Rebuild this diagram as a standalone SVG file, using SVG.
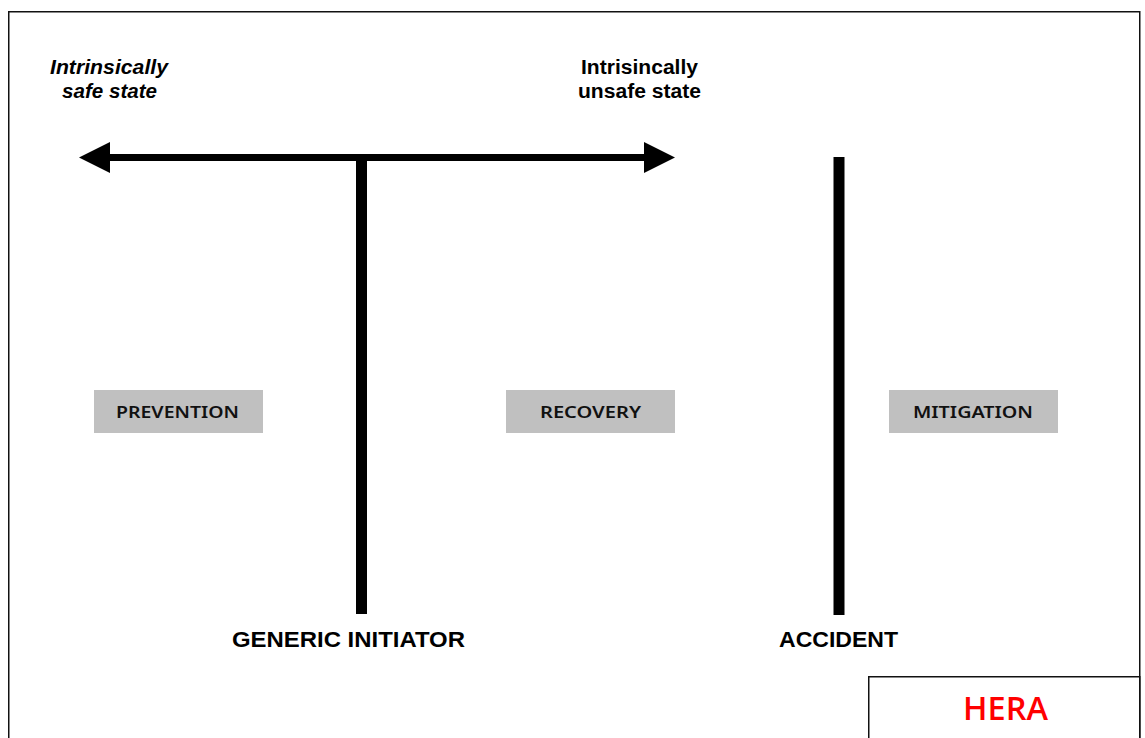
<svg xmlns="http://www.w3.org/2000/svg" width="1145" height="738" viewBox="0 0 1145 738">
  <defs>
    <marker id="head" markerUnits="userSpaceOnUse" markerWidth="31" markerHeight="31" refX="0" refY="15.5" orient="auto-start-reverse" viewBox="0 0 31 31">
      <path d="M0,0 L31,15.5 L0,31 Z" fill="#000"/>
    </marker>
    <style>
      .frame { fill: #fff; stroke: #111; stroke-width: 1.5; }
      .state { font-family: "Liberation Sans", Arial, sans-serif; font-weight: bold; font-size: 19.5px; fill: #000; }
      .event { font-family: "Liberation Sans", Arial, sans-serif; font-weight: bold; font-size: 22px; fill: #000; }
      .phase rect { fill: #c0c0c0; }
      .phase text { font-family: "Noto Sans", "Liberation Sans", sans-serif; font-weight: 600; font-size: 16px; fill: #111; }
      .bar { stroke: #000; fill: none; }
      .logo { font-family: "Open Sans", "Noto Sans", sans-serif; font-weight: 600; font-size: 32px; fill: #ff0000; }
    </style>
  </defs>

  <rect width="1145" height="738" fill="#fff"/>
  <!-- outer frame -->
  <rect class="frame" x="8.75" y="11.75" width="1131" height="740"/>

  <!-- connectors: state axis and the two event bars -->
  <g id="connectors">
    <line class="bar" x1="110" y1="157.5" x2="644" y2="157.5" stroke-width="7" marker-start="url(#head)" marker-end="url(#head)"/>
    <line class="bar" x1="361.5" y1="154" x2="361.5" y2="614" stroke-width="11"/>
    <line class="bar" x1="839" y1="157" x2="839" y2="615" stroke-width="11"/>
  </g>

  <g id="safe-state">
    <text class="state" font-style="italic" x="50" y="74" textLength="118" lengthAdjust="spacingAndGlyphs">Intrinsically</text>
    <text class="state" font-style="italic" x="62" y="98" textLength="95" lengthAdjust="spacingAndGlyphs">safe state</text>
  </g>

  <g id="unsafe-state">
    <text class="state" x="581" y="74" textLength="117" lengthAdjust="spacingAndGlyphs">Intrisincally</text>
    <text class="state" x="578" y="98" textLength="123" lengthAdjust="spacingAndGlyphs">unsafe state</text>
  </g>

  <g id="prevention" class="phase">
    <rect x="94" y="390" width="169" height="43"/>
    <text x="116" y="418" textLength="123" lengthAdjust="spacingAndGlyphs">PREVENTION</text>
  </g>

  <g id="recovery" class="phase">
    <rect x="506" y="390" width="169" height="43"/>
    <text x="540" y="418" textLength="101" lengthAdjust="spacingAndGlyphs">RECOVERY</text>
  </g>

  <g id="mitigation" class="phase">
    <rect x="889" y="390" width="169" height="43"/>
    <text x="913" y="418" textLength="120" lengthAdjust="spacingAndGlyphs">MITIGATION</text>
  </g>

  <g id="generic-initiator">
    <text class="event" x="232" y="647" textLength="233" lengthAdjust="spacingAndGlyphs">GENERIC INITIATOR</text>
  </g>

  <g id="accident">
    <text class="event" x="779" y="647" textLength="119" lengthAdjust="spacingAndGlyphs">ACCIDENT</text>
  </g>

  <g id="hera">
    <rect class="frame" x="868.75" y="676.75" width="271" height="70"/>
    <text class="logo" x="963" y="720" textLength="85" lengthAdjust="spacingAndGlyphs">HERA</text>
  </g>
</svg>
